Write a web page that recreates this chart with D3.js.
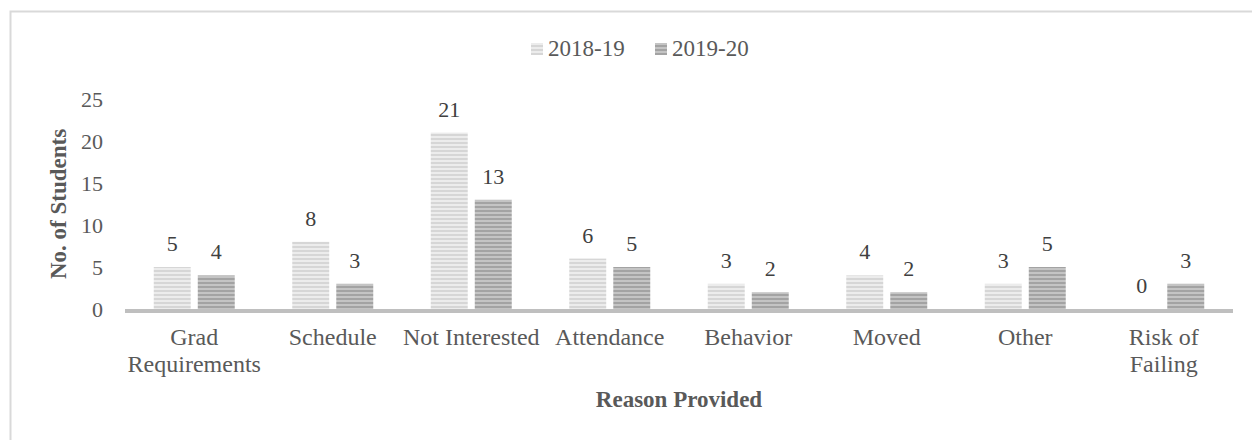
<!DOCTYPE html>
<html>
<head>
<meta charset="utf-8">
<script src="https://cdn.jsdelivr.net/npm/d3@7"></script>
<style>
  body { margin: 0; background: #fff; }
  text { font-family: "Liberation Serif", "Times New Roman", serif; }
</style>
</head>
<body>
<div id="here"></div>
<script>
var w = 1252, h = 440;

var categories = ['Grad Requirements', 'Schedule', 'Not Interested', 'Attendance', 'Behavior', 'Moved', 'Other', 'Risk of Failing'];
var labelLines = [['Grad', 'Requirements'], ['Schedule'], ['Not Interested'], ['Attendance'], ['Behavior'], ['Moved'], ['Other'], ['Risk of', 'Failing']];
var seriesNames = ['2018-19', '2019-20'];
var values1819 = [5, 8, 21, 6, 3, 4, 3, 0];
var values1920 = [4, 3, 13, 5, 2, 2, 5, 3];
var yTicks = [0, 5, 10, 15, 20, 25];

var series = [
  {name: seriesNames[0], values: values1819, base: '#ececec', stripe: '#d6d6d6'},
  {name: seriesNames[1], values: values1920, base: '#c4c4c4', stripe: '#a3a3a3'}
];

var svg = d3.select('#here').append('svg')
  .attr('width', w)
  .attr('height', h);

// stripe patterns
var defs = svg.append('defs');
series.forEach(function(s, i) {
  var p = defs.append('pattern')
    .attr('id', 'stripe' + i)
    .attr('patternUnits', 'userSpaceOnUse')
    .attr('width', 8).attr('height', 4);
  p.append('rect').attr('width', 8).attr('height', 4).attr('fill', s.base);
  p.append('rect').attr('y', 2).attr('width', 8).attr('height', 2).attr('fill', s.stripe);
});

// outer border
svg.append('rect')
  .attr('x', 10.5).attr('y', 11.5)
  .attr('width', w).attr('height', h)
  .attr('fill', 'none')
  .attr('stroke', '#d9d9d9')
  .attr('stroke-width', 2);

var x0 = d3.scaleBand().domain(categories).range([125, 1233]).padding(0);
var gw = 81;
var x1 = d3.scaleBand().domain(seriesNames)
  .range([(x0.bandwidth() - gw) / 2, (x0.bandwidth() + gw) / 2])
  .paddingInner(0.16);
var y = d3.scaleLinear().domain([0, 25]).range([309, 99]);

// y tick labels
svg.append('g').selectAll('text')
  .data(yTicks)
  .enter().append('text')
  .attr('x', 103)
  .attr('y', function(d) { return y(d); })
  .attr('dy', '0.35em')
  .attr('text-anchor', 'end')
  .attr('fill', '#595959')
  .style('font-size', '22px')
  .text(function(d) { return d; });

// bars
var groups = svg.append('g').selectAll('g')
  .data(categories)
  .enter().append('g')
  .attr('transform', function(d) { return 'translate(' + x0(d) + ',0)'; });

series.forEach(function(s, si) {
  groups.append('rect')
    .attr('x', x1(s.name))
    .attr('y', function(d, i) { return y(s.values[i]); })
    .attr('width', x1.bandwidth())
    .attr('height', function(d, i) { return y(0) - y(s.values[i]); })
    .attr('fill', 'url(#stripe' + si + ')');

  groups.append('text')
    .attr('x', x1(s.name) + x1.bandwidth() / 2)
    .attr('y', function(d, i) { return y(s.values[i]) - 16; })
    .attr('text-anchor', 'middle')
    .attr('fill', '#404040')
    .style('font-size', '22px')
    .text(function(d, i) { return s.values[i]; });
});

// x axis line
svg.append('line')
  .attr('x1', 125).attr('x2', 1233)
  .attr('y1', y(0) + 2).attr('y2', y(0) + 2)
  .attr('stroke', '#bfbfbf')
  .attr('stroke-width', 4);

// category labels
groups.append('text')
  .attr('x', x0.bandwidth() / 2)
  .attr('y', 345)
  .attr('text-anchor', 'middle')
  .attr('fill', '#595959')
  .style('font-size', '24px')
  .each(function(d, i) {
    var t = d3.select(this);
    labelLines[i].forEach(function(line, li) {
      t.append('tspan')
        .attr('x', x0.bandwidth() / 2)
        .attr('dy', li === 0 ? 0 : 27)
        .text(line);
    });
  });

// axis titles
svg.append('text')
  .attr('x', (125 + 1233) / 2)
  .attr('y', 407)
  .attr('text-anchor', 'middle')
  .attr('fill', '#595959')
  .style('font-size', '23px')
  .style('font-weight', 'bold')
  .text('Reason Provided');

svg.append('text')
  .attr('transform', 'translate(66,204) rotate(-90)')
  .attr('text-anchor', 'middle')
  .attr('fill', '#595959')
  .style('font-size', '23px')
  .style('font-weight', 'bold')
  .text('No. of Students');

// legend
var legendX = [531, 655];
var legend = svg.append('g').selectAll('g')
  .data(series)
  .enter().append('g')
  .attr('transform', function(d, i) { return 'translate(' + legendX[i] + ',43)'; });

legend.append('rect')
  .attr('width', 12).attr('height', 12)
  .attr('fill', function(d, i) { return 'url(#stripe' + i + ')'; });

legend.append('text')
  .attr('x', 17)
  .attr('y', 13)
  .attr('fill', '#595959')
  .style('font-size', '23px')
  .text(function(d) { return d.name; });
</script>
</body>
</html>
